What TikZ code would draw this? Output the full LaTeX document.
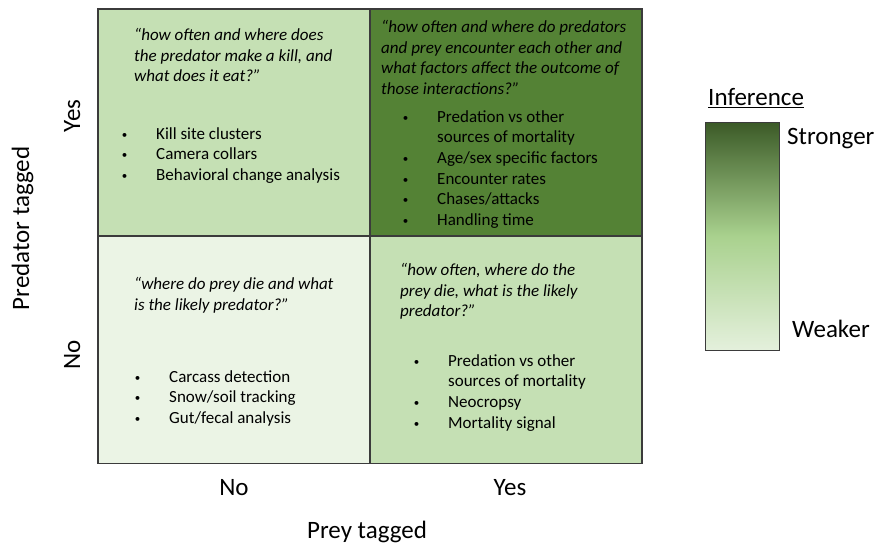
\documentclass[tikz,border=0pt]{standalone}
\usepackage{fontspec}
\setmainfont{Carlito}
\usepackage{tikz}

\definecolor{cellLight}{HTML}{C5E0B4}
\definecolor{cellDark}{HTML}{548235}
\definecolor{cellPale}{HTML}{EBF4E5}
\definecolor{gridLine}{HTML}{3B3B3B}
\definecolor{barTop}{HTML}{3B5A27}
\definecolor{barMid}{HTML}{A9D18E}
\definecolor{barBottom}{HTML}{E4F0DC}

% Bullet entry and its continuation line
\newcommand{\bul}[1]{\makebox[31pt][l]{\hspace*{-3.4pt}\raisebox{1pt}{\fontsize{11}{11}\selectfont\textbullet}}#1}
\newcommand{\bulcont}[1]{\hspace*{31pt}#1}

\tikzset{
    cell/.style={draw=gridLine, line width=1.5pt, minimum width=272pt, minimum height=227.5pt, inner sep=0pt},
    quote/.style={anchor=north west, inner sep=0pt, align=left, font=\itshape\fontsize{17}{20.7}\selectfont},
    items/.style={anchor=north west, inner sep=0pt, align=left, font=\fontsize{17}{20.7}\selectfont},
    axislabel/.style={anchor=base, inner sep=0pt, font=\fontsize{25}{30}\selectfont},
    legendtext/.style={anchor=base west, inner sep=0pt, font=\fontsize{25}{30}\selectfont}
}

\begin{document}
\begin{tikzpicture}[x=1pt, y=-1pt]

            % Fixes the page to the size of the reference
            \useasboundingbox (0,0) rectangle (878,543);

            % Draws the four quadrants of the grid
            \node[cell, fill=cellLight] (tl) at (234,122.75) {};
            \node[cell, fill=cellDark] (tr) at (506,122.75) {};
            \node[cell, fill=cellPale] (bl) at (234,349.75) {};
            \node[cell, fill=cellLight] (br) at (506,349.75) {};

            % Question and methods when only the predator is tagged
            \node[quote] (tlq) at (134,28) {“how often and where does\\the predator make a kill, and\\what does it eat?”};
            \node[items] (tli) at (125,127) {\bul{Kill site clusters}\\\bul{Camera collars}\\\bul{Behavioral change analysis}};

            % Question and methods when both are tagged
            \node[quote] (trq) at (381,20) {“how often and where do predators\\and prey encounter each other and\\what factors affect the outcome of\\those interactions?”};
            \node[items] (tri) at (406,110) {\bul{Predation vs other}\\\bulcont{sources of mortality}\\\bul{Age/sex specific factors}\\\bul{Encounter rates}\\\bul{Chases/attacks}\\\bul{Handling time}};

            % Question and methods when nothing is tagged
            \node[quote] (blq) at (134,277) {“where do prey die and what\\is the likely predator?”};
            \node[items] (bli) at (138,370) {\bul{Carcass detection}\\\bul{Snow/soil tracking}\\\bul{Gut/fecal analysis}};

            % Question and methods when only the prey is tagged
            \node[quote] (brq) at (400,263) {“how often, where do the\\prey die, what is the likely\\predator?”};
            \node[items] (bri) at (417,354) {\bul{Predation vs other}\\\bulcont{sources of mortality}\\\bul{Neocropsy}\\\bul{Mortality signal}};

            % Labels along the vertical axis
            \node[axislabel, rotate=90] (predyes) at (80,116) {Yes};
            \node[axislabel, rotate=90] (predno) at (80,355) {No};
            \node[axislabel, rotate=90] (predtitle) at (29,228.5) {Predator tagged};

            % Labels along the horizontal axis
            \node[axislabel] (preyno) at (234,495) {No};
            \node[axislabel] (preyyes) at (510,495) {Yes};
            \node[axislabel] (preytitle) at (367,538) {Prey tagged};

            % Draws the shaded inference scale
            \node[legendtext] (inftitle) at (708,105.5) {\underline{Inference}};
            \node[draw=gridLine, line width=1pt, minimum width=74pt, minimum height=228pt, inner sep=0pt,
                  top color=barTop, bottom color=barBottom, middle color=barMid] (infbar) at (742,236) {};
            \node[legendtext] (stronger) at (787,144) {Stronger};
            \node[legendtext] (weaker) at (792,337) {Weaker};

\end{tikzpicture}
\end{document}
